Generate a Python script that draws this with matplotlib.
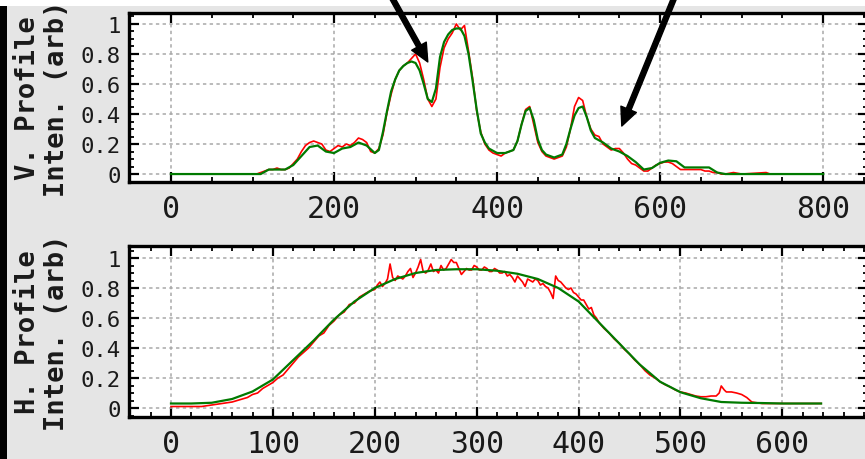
import matplotlib
matplotlib.use("Agg")
import matplotlib.pyplot as plt
from matplotlib.ticker import MultipleLocator, FuncFormatter
from matplotlib.patches import Rectangle

# ---- vertical profile: measured (red) and model (green) ----
v_meas_x = [0, 100, 105, 110, 115, 120, 125, 130, 135, 140, 145, 150, 155, 160, 165, 170,
            175, 180, 185, 190, 195, 200, 205, 210, 215, 220, 225, 230, 235, 240, 245,
            250, 255, 260, 265, 270, 275, 280, 285, 290, 295, 300, 305, 310, 315, 320,
            325, 330, 335, 340, 345, 350, 355, 360, 365, 370, 375, 380, 385, 390, 395,
            400, 405, 410, 415, 420, 425, 430, 435, 440, 445, 450, 455, 460, 465, 470,
            475, 480, 485, 490, 495, 500, 505, 510, 515, 520, 525, 530, 535, 540, 545,
            550, 555, 560, 565, 570, 575, 580, 585, 590, 595, 600, 605, 610, 615, 620,
            625, 630, 635, 640, 645, 650, 655, 660, 665, 670, 675, 680, 690, 700, 730,
            735, 800]
v_meas_y = [0.0, 0.0, 0.0, 0.01, 0.02, 0.03, 0.03, 0.04, 0.03, 0.03, 0.04, 0.07, 0.10,
            0.15, 0.19, 0.21, 0.22, 0.21, 0.20, 0.16, 0.15, 0.17, 0.19, 0.18, 0.20, 0.19,
            0.21, 0.24, 0.23, 0.21, 0.15, 0.14, 0.17, 0.26, 0.41, 0.53, 0.63, 0.69, 0.72,
            0.74, 0.77, 0.80, 0.74, 0.63, 0.50, 0.45, 0.50, 0.71, 0.84, 0.90, 0.94, 1.00,
            0.96, 0.99, 0.82, 0.64, 0.42, 0.28, 0.20, 0.16, 0.14, 0.13, 0.12, 0.14, 0.15,
            0.16, 0.22, 0.33, 0.43, 0.45, 0.33, 0.21, 0.15, 0.12, 0.11, 0.10, 0.11, 0.12,
            0.18, 0.30, 0.45, 0.51, 0.49, 0.38, 0.30, 0.26, 0.25, 0.20, 0.18, 0.16, 0.17,
            0.17, 0.14, 0.10, 0.07, 0.06, 0.04, 0.02, 0.02, 0.04, 0.06, 0.07, 0.08, 0.08,
            0.07, 0.05, 0.03, 0.03, 0.03, 0.03, 0.03, 0.03, 0.02, 0.02, 0.01, 0.01, 0.0,
            0.0, 0.01, 0.0, 0.01, 0.0, 0.0]

v_fit_x = [0, 110, 120, 130, 140, 150, 160, 170, 180, 190, 200, 210, 220, 230, 240, 250,
           255, 260, 265, 270, 275, 280, 285, 290, 295, 300, 305, 310, 315, 320, 325, 330,
           335, 340, 345, 350, 355, 360, 365, 370, 375, 380, 385, 390, 400, 410, 420, 425,
           430, 435, 440, 445, 450, 455, 460, 470, 480, 485, 490, 495, 500, 505, 510, 515,
           520, 530, 540, 550, 560, 570, 580, 590, 600, 610, 620, 630, 640, 650, 660, 670,
           680, 800]
v_fit_y = [0.0, 0.0, 0.03, 0.03, 0.03, 0.06, 0.12, 0.18, 0.19, 0.15, 0.14, 0.17, 0.18,
           0.21, 0.19, 0.14, 0.16, 0.28, 0.42, 0.55, 0.63, 0.69, 0.72, 0.74, 0.75, 0.74,
           0.69, 0.60, 0.50, 0.48, 0.57, 0.78, 0.88, 0.93, 0.96, 0.97, 0.97, 0.92, 0.80,
           0.62, 0.43, 0.27, 0.21, 0.17, 0.14, 0.14, 0.16, 0.22, 0.33, 0.42, 0.44, 0.36,
           0.23, 0.16, 0.13, 0.11, 0.13, 0.20, 0.30, 0.39, 0.44, 0.45, 0.38, 0.29, 0.24,
           0.21, 0.17, 0.15, 0.12, 0.08, 0.03, 0.04, 0.075, 0.09, 0.085, 0.044, 0.044,
           0.044, 0.044, 0.01, 0.0, 0.0]

# ---- horizontal profile: measured (red) and model (green) ----
h_meas_x = [0, 5, 10, 15, 20, 25, 30, 35, 40, 45, 50, 55, 60, 65, 70, 75, 80, 85, 90, 95,
            100, 105, 110, 115, 120, 125, 130, 135, 140, 145, 150, 155, 160, 165, 170,
            175, 180, 185, 190, 195,
            200, 202.5, 205, 207.5, 210, 212.5, 215, 217.5, 220, 222.5, 225, 227.5, 230,
            232.5, 235, 237.5, 240, 242.5, 245, 247.5, 250, 252.5, 255, 257.5, 260, 262.5,
            265, 267.5, 270, 272.5, 275, 277.5, 280, 282.5, 285, 287.5, 290, 292.5, 295,
            297.5, 300, 302.5, 305, 307.5, 310, 312.5, 315, 317.5, 320, 322.5, 325, 327.5,
            330, 332.5, 335, 337.5, 340, 342.5, 345, 347.5, 350, 352.5, 355, 357.5, 360,
            362.5, 365, 367.5, 370, 372.5, 375, 377.5, 380, 382.5, 385, 387.5, 390, 392.5,
            395, 397.5, 400, 402.5, 405, 407.5, 410, 412.5, 415, 417.5, 420,
            425, 430, 435, 440, 445, 450, 455, 460, 465, 470, 475, 480, 485, 490, 495,
            500, 505, 510, 515, 520, 525, 530, 535, 538, 540, 543, 545, 550, 555, 560,
            565, 570, 575, 580, 590, 600, 610, 620, 633, 638]
h_meas_y = [0.01, 0.01, 0.01, 0.01, 0.01, 0.01, 0.01, 0.015, 0.02, 0.025, 0.03, 0.035,
            0.04, 0.05, 0.06, 0.07, 0.09, 0.10, 0.13, 0.15, 0.17, 0.20, 0.22, 0.26, 0.30,
            0.34, 0.37, 0.40, 0.44, 0.48, 0.50, 0.55, 0.58, 0.62, 0.64, 0.69, 0.70, 0.74,
            0.76, 0.78,
            0.79, 0.82, 0.84, 0.81, 0.83, 0.86, 0.96, 0.87, 0.85, 0.88, 0.87, 0.86, 0.88,
            0.91, 0.93, 0.87, 0.90, 0.94, 0.99, 0.91, 0.90, 0.92, 0.96, 0.91, 0.92, 0.90,
            0.95, 0.92, 0.93, 0.96, 0.99, 0.97, 0.97, 0.93, 0.89, 0.91, 0.93, 0.92, 0.92,
            0.95, 0.94, 0.92, 0.92, 0.94, 0.93, 0.91, 0.91, 0.93, 0.92, 0.90, 0.90, 0.91,
            0.88, 0.89, 0.87, 0.84, 0.88, 0.86, 0.84, 0.81, 0.86, 0.85, 0.84, 0.86, 0.85,
            0.82, 0.83, 0.81, 0.80, 0.77, 0.73, 0.88, 0.85, 0.84, 0.82, 0.80, 0.79, 0.80,
            0.77, 0.76, 0.74, 0.72, 0.72, 0.69, 0.66, 0.67, 0.62, 0.60, 0.57,
            0.53, 0.50, 0.46, 0.43, 0.39, 0.36, 0.32, 0.29, 0.25, 0.22, 0.20, 0.175,
            0.155, 0.14, 0.12, 0.107, 0.10, 0.09, 0.08, 0.075, 0.075, 0.08, 0.08, 0.10,
            0.147, 0.12, 0.107, 0.107, 0.10, 0.09, 0.07, 0.04, 0.035, 0.03, 0.03, 0.03,
            0.03, 0.03, 0.03, 0.03]

h_fit_x = [0, 20, 40, 60, 80, 100, 120, 140, 160, 180, 200, 220, 240, 260, 280, 300, 320,
           340, 360, 380, 400, 420, 440, 460, 480, 500, 520, 540, 560, 580, 600, 620, 638]
h_fit_y = [0.03, 0.03, 0.035, 0.06, 0.11, 0.19, 0.32, 0.45, 0.59, 0.71, 0.80, 0.86, 0.90,
           0.92, 0.925, 0.925, 0.915, 0.895, 0.86, 0.80, 0.71, 0.57, 0.43, 0.29, 0.175,
           0.105, 0.065, 0.04, 0.035, 0.033, 0.03, 0.03, 0.03]

y_ticks = [0, 0.2, 0.4, 0.6, 0.8, 1.0]
v_xticks = [0, 200, 400, 600, 800]
h_xticks = [0, 100, 200, 300, 400, 500, 600]

W, H = 865, 460
fig = plt.figure(figsize=(W / 100, H / 100), dpi=100, facecolor="#e5e5e5")

# window frame: white strip along the top, dark bar on the left
fig.patches.append(Rectangle((0, 1 - 7 / H), 1, 7 / H, transform=fig.transFigure,
                             facecolor="white", edgecolor="none", zorder=-5))
fig.patches.append(Rectangle((0, 0), 7 / W, 1 - 7 / H, transform=fig.transFigure,
                             facecolor="black", edgecolor="none", zorder=-5))

mono = "DejaVu Sans Mono"


def px_axes(left, top, right, bottom):
    return fig.add_axes([left / W, 1 - bottom / H, (right - left) / W, (bottom - top) / H])


def style(ax, xticks, xminor, label):
    ax.set_facecolor("white")
    for s in ax.spines.values():
        s.set_linewidth(2.4)
        s.set_color("black")
    ax.set_xticks(xticks)
    ax.set_yticks(y_ticks)
    ax.xaxis.set_minor_locator(MultipleLocator(xminor))
    ax.yaxis.set_minor_locator(MultipleLocator(0.05))
    ax.yaxis.set_major_formatter(FuncFormatter(lambda v, p: "%g" % v))
    ax.tick_params(which="both", direction="in", top=True, right=True, colors="black")
    ax.tick_params(which="major", length=7, width=1.6)
    ax.tick_params(which="minor", length=3.5, width=1.3)
    ax.tick_params(axis="x", labelsize=21.5, pad=9, labelcolor="#1a1a1a")
    ax.tick_params(axis="y", labelsize=16, pad=6, labelcolor="#1a1a1a")
    for t in ax.get_xticklabels() + ax.get_yticklabels():
        t.set_family(mono)
    ax.grid(True, which="major", color="#a8a8a8", linestyle=(0, (2.2, 2.2)), linewidth=1.1)
    ax.set_axisbelow(True)
    ax.set_ylabel(label, family=mono, fontweight="bold", fontsize=19.5,
                  color="#1a1a1a", multialignment="center", linespacing=1.15)


# upper panel
ax1 = px_axes(129, 14, 868, 183)
ax1.plot(v_meas_x, v_meas_y, color="#ff0000", linewidth=1.2)
ax1.plot(v_fit_x, v_fit_y, color="#007a00", linewidth=1.6)
ax1.set_xlim(-51.5, 855)
ax1.set_ylim(-0.053, 1.073)
style(ax1, v_xticks, 50, "V. Profile\nInten. (arb)")
ax1.yaxis.set_label_coords(-0.08, 0.5)

arrow = dict(facecolor="black", edgecolor="black", width=3.6, headwidth=12,
             headlength=13, shrink=0)
ax1.annotate("", xy=(315, 0.747), xytext=(251, 1.37), arrowprops=arrow,
             annotation_clip=False)
ax1.annotate("", xy=(553, 0.32), xytext=(632, 1.37), arrowprops=arrow,
             annotation_clip=False)

# lower panel
ax2 = px_axes(129, 247, 868, 418)
ax2.plot(h_meas_x, h_meas_y, color="#ff0000", linewidth=1.2)
ax2.plot(h_fit_x, h_fit_y, color="#007a00", linewidth=1.6)
ax2.set_xlim(-41.2, 684)
ax2.set_ylim(-0.06, 1.08)
style(ax2, h_xticks, 20, "H. Profile\nInten. (arb)")
ax2.yaxis.set_label_coords(-0.08, 0.5)

fig.savefig("out.png", dpi=100, facecolor=fig.get_facecolor())
